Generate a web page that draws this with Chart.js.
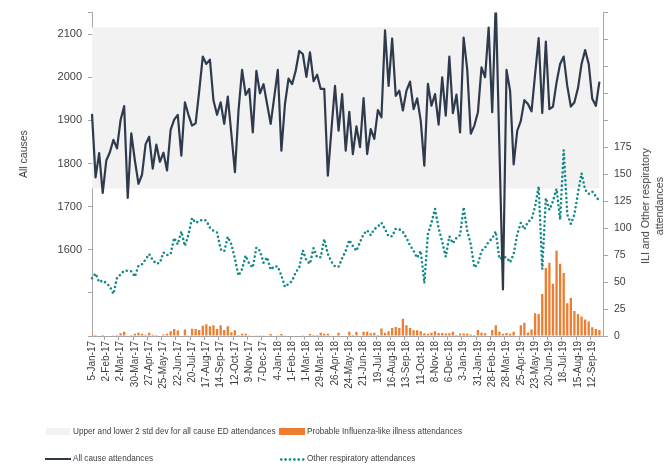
<!DOCTYPE html>
<html><head><meta charset="utf-8">
<script src="https://cdn.jsdelivr.net/npm/chart.js@4.4.1/dist/chart.umd.min.js"></script>
<style>
body{margin:0;background:#fff;}
#wrap{position:relative;width:672px;height:468px;font-family:'Liberation Sans',Arial,sans-serif;color:#404040;overflow:hidden;}
canvas{position:absolute;left:0;top:0;}
.rot{position:absolute;white-space:nowrap;transform:translate(-50%,-50%) rotate(-90deg);text-align:center;}
.lg{position:absolute;white-space:nowrap;font-size:8.2px;line-height:10px;}
.sw{position:absolute;}
</style>
</head><body>
<div id="wrap">
<canvas id="c" width="672" height="468"></canvas>
<div class="rot" style="left:22.5px;top:154px;font-size:10.5px;">All causes</div>
<div class="rot" style="left:652px;top:206px;font-size:10.7px;line-height:14px;">ILI and Other respiratory<br>attendances</div>
<div class="sw" style="left:46px;top:428px;width:24px;height:7px;background:#f2f2f2;"></div>
<div class="lg" style="left:73px;top:426.5px;">Upper and lower 2 std dev for all cause ED attendances</div>
<div class="sw" style="left:279px;top:428px;width:26px;height:7px;background:#ed7d31;"></div>
<div class="lg" style="left:307px;top:426.5px;">Probable Influenza-like illness attendances</div>
<div class="sw" style="left:45px;top:458px;width:26px;height:2px;background:#2f3b4c;"></div>
<div class="lg" style="left:73px;top:454px;">All cause attendances</div>
<div class="sw" style="left:279px;top:457.5px;width:26px;height:3px;background-image:radial-gradient(circle,#138a8a 1.2px,transparent 1.4px);background-size:4.4px 3px;"></div>
<div class="lg" style="left:307px;top:454px;">Other respiratory attendances</div>
</div>
<script>
// Weekly categories (week starting)
const weeks = [
'5-Jan-17','12-Jan-17','19-Jan-17','26-Jan-17','2-Feb-17','9-Feb-17','16-Feb-17','23-Feb-17','2-Mar-17','9-Mar-17','16-Mar-17','23-Mar-17','30-Mar-17',
'6-Apr-17','13-Apr-17','20-Apr-17','27-Apr-17','4-May-17','11-May-17','18-May-17','25-May-17','1-Jun-17','8-Jun-17','15-Jun-17','22-Jun-17','29-Jun-17',
'6-Jul-17','13-Jul-17','20-Jul-17','27-Jul-17','3-Aug-17','10-Aug-17','17-Aug-17','24-Aug-17','31-Aug-17','7-Sep-17','14-Sep-17','21-Sep-17','28-Sep-17',
'5-Oct-17','12-Oct-17','19-Oct-17','26-Oct-17','2-Nov-17','9-Nov-17','16-Nov-17','23-Nov-17','30-Nov-17','7-Dec-17','14-Dec-17','21-Dec-17','28-Dec-17',
'4-Jan-18','11-Jan-18','18-Jan-18','25-Jan-18','1-Feb-18','8-Feb-18','15-Feb-18','22-Feb-18','1-Mar-18','8-Mar-18','15-Mar-18','22-Mar-18','29-Mar-18',
'5-Apr-18','12-Apr-18','19-Apr-18','26-Apr-18','3-May-18','10-May-18','17-May-18','24-May-18','31-May-18','7-Jun-18','14-Jun-18','21-Jun-18','28-Jun-18',
'5-Jul-18','12-Jul-18','19-Jul-18','26-Jul-18','2-Aug-18','9-Aug-18','16-Aug-18','23-Aug-18','30-Aug-18','6-Sep-18','13-Sep-18','20-Sep-18','27-Sep-18',
'4-Oct-18','11-Oct-18','18-Oct-18','25-Oct-18','1-Nov-18','8-Nov-18','15-Nov-18','22-Nov-18','29-Nov-18','6-Dec-18','13-Dec-18','20-Dec-18','27-Dec-18',
'3-Jan-19','10-Jan-19','17-Jan-19','24-Jan-19','31-Jan-19','7-Feb-19','14-Feb-19','21-Feb-19','28-Feb-19','7-Mar-19','14-Mar-19','21-Mar-19','28-Mar-19',
'4-Apr-19','11-Apr-19','18-Apr-19','25-Apr-19','2-May-19','9-May-19','16-May-19','23-May-19','30-May-19','6-Jun-19','13-Jun-19','20-Jun-19','27-Jun-19',
'4-Jul-19','11-Jul-19','18-Jul-19','25-Jul-19','1-Aug-19','8-Aug-19','15-Aug-19','22-Aug-19','29-Aug-19','5-Sep-19','12-Sep-19','19-Sep-19','26-Sep-19'
];

// All cause ED attendances (left axis)
const allCause = [
1915,1768,1824,1732,1807,1826,1855,1835,1901,1933,1720,1870,1807,1753,1774,1845,1862,1788,1844,1804,
1825,1784,1878,1902,1913,1818,1942,1913,1888,1893,1968,2048,2031,2041,1946,1913,1942,1892,1955,1869,
1780,1923,2017,1959,1973,1872,2015,1963,1984,1938,1892,1954,2017,1830,1938,1997,1984,2015,2061,2054,
2001,2058,1991,2006,1973,1973,1772,1878,1980,1876,1961,1830,1920,1822,1886,1838,1952,1822,1880,1857,
1924,1907,2109,1980,2090,1957,1969,1923,1969,1990,1926,1951,1899,1795,1985,1934,1961,1890,2000,1911,
2048,1917,1960,1872,2092,2019,1869,1888,1919,2023,2000,2115,1919,2175,1840,1508,2017,1969,1798,1876,
1899,1947,1938,1921,2007,2091,1917,2083,1926,1932,1988,2031,2048,1980,1932,1942,1975,2031,2063,2031,
1950,1934,1990
];

// Other respiratory attendances (right axis)
const otherResp = [
53.6,58,50,51.5,49,46,39,54,57,60.5,60.5,60,55,65,66.5,71,76,70.5,67,68,
77.5,75,76,91,85,97,83.5,94,109.5,105,106.5,108,107,100.5,97.5,96,80.5,78.5,92,85,
71.5,56,62,74.5,67,63.5,82,79,68,73,61.5,64.5,64.5,56,45.5,48.5,51,59,63.5,79.5,
70,67,81.5,73,73,90,76,69,64.5,64.3,72,79,89,83.5,79,87,94.5,98,93.5,99,
101.5,105,99,92.5,92.5,99.5,99,96.5,91,84,79,72.5,79,49,94.5,105,118,100,87.5,73.5,
92.5,86,91,93.5,119.5,97.5,85,63.5,67,79,82,87.5,90.5,97,71.5,73,73,68.3,76,94.4,
105,99,106,108,120.4,138.8,62,128,117,125,136.6,108,172.5,112.8,104,112.8,132.7,151,135.7,131.8,
134,129.6,125
];

// Probable influenza-like illness attendances (right axis)
const ili = [
1.7,1,0,1,0,0,0.8,1,2.5,4,0,1,2,3,2,1.2,3,1.2,1,0,
1.5,2,4.3,6.5,5,0,6,0.7,6.8,6.5,5.5,9.5,11,9,10,6.5,10,5.5,9,3.5,
5.3,1,2,2,0.8,0,0.6,0.6,0.6,0,1.8,0,0.6,1.8,0.6,0,0,0,0,0.6,
0,1.8,1,1,3,2,2,0,0,3,0,0,4,1,4,0,4,4,2.5,3,
1,7,3,4.3,7.5,8.3,7.5,16,10,7.5,5.3,5.3,4.5,2.5,2,3,4.5,2.8,2.8,2.4,
2.5,4,1,2.3,2.3,2.3,1.5,1,5.5,3,2.5,0,5.5,10,4,2,2.8,2,4,0,
10,12.2,3.2,6,21.2,20.5,39,63,68,48.5,79,67,58.5,30.3,35.3,23.2,20.5,18.2,15.2,13.5,
8.2,6.4,5.5
];

// Band: upper and lower 2 std dev for all cause ED attendances
const BAND_LOWER = 1742;
const BAND_UPPER = 2116;

// Axis tick settings
const leftTickLabels = [1600,1700,1800,1900,2000,2100];
const rightTickMaxLabel = 175;

const FONT = "'Liberation Sans', Arial, sans-serif";
const AXIS = '#a6a6a6';
const TXT = '#404040';

const xLabels = weeks.concat(['']);

new Chart(document.getElementById('c'), {
  type: 'bar',
  data: {
    labels: xLabels,
    datasets: [
      {type:'line', label:'band lower', data: weeks.map(()=>BAND_LOWER), yAxisID:'y',
       borderWidth:0, pointRadius:0, fill:false, order:10},
      {type:'line', label:'Upper and lower 2 std dev for all cause ED attendances', data: weeks.map(()=>BAND_UPPER), yAxisID:'y',
       borderWidth:0, pointRadius:0, fill:'-1', backgroundColor:'#f2f2f2', order:9},
      {type:'bar', label:'Probable Influenza-like illness attendances', data: ili, yAxisID:'y1',
       backgroundColor:'#ed7d31', barPercentage:0.65, categoryPercentage:1, order:5, clip:0},
      {type:'line', label:'Other respiratory attendances', data: otherResp, yAxisID:'y1',
       borderColor:'#138a8a', borderWidth:2.6, borderDash:[0,4.4], borderCapStyle:'round',
       pointRadius:0, tension:0, fill:false, order:3},
      {type:'line', label:'All cause attendances', data: allCause, yAxisID:'y',
       borderColor:'#2f3b4c', borderWidth:2.2, borderJoinStyle:'round', pointRadius:0, tension:0, fill:false, order:2}
    ]
  },
  options: {
    responsive:false,
    animation:false,
    layout:{padding:{top:11,left:0,right:0,bottom:0}},
    plugins:{legend:{display:false}, tooltip:{enabled:false}},
    scales:{
      x:{
        offset:false,
        grid:{display:true, drawOnChartArea:false, tickLength:4, lineWidth:1,
              color:(c)=> (c.index%4===0 && c.index<weeks.length) ? AXIS : 'rgba(0,0,0,0)'},
        border:{display:true,color:AXIS,width:1},
        ticks:{autoSkip:false,minRotation:90,maxRotation:90,padding:1,color:TXT,
               font:{family:FONT,size:10},
               callback:(v,i)=> (i%4===0 && i<weeks.length) ? weeks[i] : ''},
        afterFit:(s)=>{s.height=132;}
      },
      y:{
        position:'left', min:1400, max:2150,
        grid:{display:true, drawOnChartArea:false, tickLength:4, color:AXIS},
        border:{display:true,color:AXIS,width:1},
        ticks:{stepSize:100, padding:6, color:TXT, font:{family:FONT,size:11},
               callback:(v)=> leftTickLabels.includes(v) ? String(v) : ''},
        afterFit:(s)=>{s.width=92;}
      },
      y1:{
        position:'right', min:0, max:300,
        grid:{display:true, drawOnChartArea:false, tickLength:5, color:AXIS},
        border:{display:true,color:AXIS,width:1},
        ticks:{stepSize:25, padding:6, color:TXT, font:{family:FONT,size:10.5},
               callback:(v)=> v<=rightTickMaxLabel ? String(v) : ''},
        afterFit:(s)=>{s.width=69;}
      }
    }
  }
});
</script>
</body></html>
